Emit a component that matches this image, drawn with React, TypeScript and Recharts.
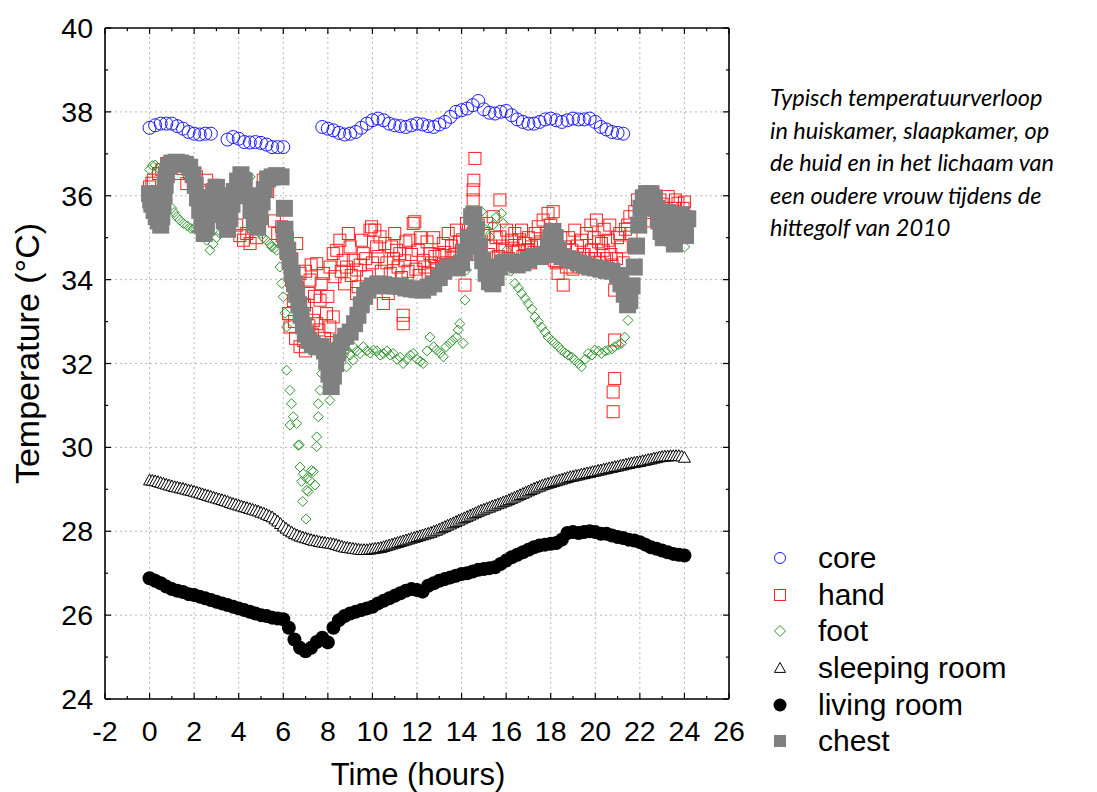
import { ScatterChart, Scatter, XAxis, YAxis, Legend, ReferenceLine } from 'recharts'

const FONT = '"Liberation Sans", Arial, sans-serif'

// core and living room logged every quarter hour, sleeping room every 7.5 min
const CORE_STEP = 0.25
const LIVING_STEP = 0.25
const SLEEPING_STEP = 0.125

const coreTemps: (number | null)[] = [
  37.62, 37.68, 37.72, 37.72, 37.72, 37.66, 37.6, 37.52, 37.48, 37.46, 37.48, 37.48,
  null, null,
  37.34, 37.4, 37.36, 37.28, 37.27, 37.28, 37.26, 37.22, 37.16, 37.16, 37.16,
  null, null, null, null, null, null,
  37.64, 37.6, 37.56, 37.5, 37.46, 37.48, 37.52, 37.62, 37.72, 37.8, 37.84, 37.8,
  37.72, 37.68, 37.66, 37.64, 37.68, 37.72, 37.7, 37.66, 37.64, 37.7, 37.76, 37.88,
  38.0, 38.04, 38.08, 38.16, 38.26, 38.06, 37.98, 37.96, 38.0, 38.02, 37.92, 37.82,
  37.76, 37.72, 37.72, 37.76, 37.82, 37.84, 37.8, 37.76, 37.8, 37.84, 37.82, 37.82,
  37.84, 37.76, 37.64, 37.58, 37.52, 37.5, 37.48,
]

const sleepingRoomTemps = [
  29.22, 29.21, 29.2, 29.18, 29.16, 29.14, 29.12, 29.1, 29.08, 29.06, 29.05, 29.03,
  29.02, 29.0, 28.98, 28.97, 28.95, 28.93, 28.91, 28.89, 28.87, 28.85, 28.83, 28.81,
  28.79, 28.77, 28.75, 28.73, 28.71, 28.68, 28.66, 28.64, 28.62, 28.6, 28.58, 28.56,
  28.54, 28.52, 28.5, 28.48, 28.45, 28.43, 28.4, 28.37, 28.34, 28.29, 28.24, 28.18,
  28.12, 28.07, 28.02, 27.98, 27.94, 27.91, 27.88, 27.86, 27.84, 27.82, 27.8, 27.78,
  27.77, 27.75, 27.74, 27.73, 27.72, 27.71, 27.7, 27.68, 27.66, 27.64, 27.62, 27.61,
  27.6, 27.59, 27.58, 27.57, 27.56, 27.56, 27.56, 27.57, 27.58, 27.59, 27.6, 27.61,
  27.63, 27.65, 27.67, 27.69, 27.71, 27.73, 27.75, 27.77, 27.79, 27.81, 27.83, 27.85,
  27.87, 27.89, 27.91, 27.93, 27.95, 27.97, 28.0, 28.02, 28.05, 28.08, 28.11, 28.14,
  28.17, 28.2, 28.23, 28.26, 28.29, 28.32, 28.35, 28.38, 28.41, 28.44, 28.47, 28.5,
  28.52, 28.55, 28.57, 28.6, 28.62, 28.65, 28.67, 28.7, 28.72, 28.75, 28.78, 28.81,
  28.84, 28.87, 28.9, 28.93, 28.96, 28.99, 29.02, 29.05, 29.07, 29.1, 29.12, 29.14,
  29.16, 29.18, 29.2, 29.22, 29.24, 29.26, 29.28, 29.3, 29.31, 29.33, 29.34, 29.36,
  29.37, 29.39, 29.4, 29.42, 29.43, 29.45, 29.46, 29.48, 29.49, 29.51, 29.52, 29.54,
  29.55, 29.57, 29.58, 29.6, 29.61, 29.63, 29.64, 29.65, 29.66, 29.68, 29.69, 29.71,
  29.72, 29.74, 29.75, 29.77, 29.78, 29.79, 29.79, 29.8, 29.8, 29.8, 29.8, 29.79,
  29.76,
]

const livingRoomTemps = [
  26.88, 26.82, 26.76, 26.68, 26.62, 26.58, 26.55, 26.5,
  26.48, 26.44, 26.4, 26.36, 26.32, 26.28, 26.24, 26.2,
  26.16, 26.12, 26.08, 26.04, 26.0, 25.98, 25.94, 25.92,
  25.9, 25.7, 25.42, 25.22, 25.14, 25.22, 25.36, 25.46,
  25.35, 25.7, 25.88, 25.98, 26.04, 26.08, 26.12, 26.16,
  26.2, 26.28, 26.34, 26.4, 26.46, 26.52, 26.58, 26.62,
  26.6, 26.56, 26.7, 26.76, 26.82, 26.86, 26.9, 26.94,
  26.98, 27.0, 27.04, 27.08, 27.1, 27.12, 27.14, 27.22,
  27.3, 27.38, 27.44, 27.5, 27.56, 27.62, 27.66, 27.68,
  27.7, 27.72, 27.8, 27.96, 27.98, 27.96, 27.98, 28.0,
  27.98, 27.94, 27.94, 27.9, 27.86, 27.84, 27.8, 27.78,
  27.74, 27.68, 27.62, 27.58, 27.54, 27.5, 27.46, 27.44,
  27.42,
]

// irregular records as [hour, temperature]
const chestReadings = [
  [0.0, 36.05], [0.05, 35.9], [0.1, 35.8], [0.2, 35.65], [0.3, 35.5], [0.4, 35.4], [0.5, 35.3],
  [0.55, 35.5], [0.6, 35.75], [0.65, 36.0], [0.7, 36.25], [0.75, 36.5], [0.85, 36.7], [1.0, 36.78],
  [1.2, 36.8], [1.4, 36.78], [1.6, 36.75], [1.8, 36.68], [1.95, 36.5], [2.05, 36.25], [2.15, 35.95],
  [2.25, 35.65], [2.35, 35.3], [2.45, 35.1], [2.55, 35.25], [2.65, 35.55], [2.75, 35.85], [2.9, 36.1],
  [3.0, 36.2], [3.1, 36.0], [3.2, 35.7], [3.35, 35.4], [3.5, 35.2], [3.6, 35.45], [3.7, 35.8],
  [3.8, 36.1], [3.95, 36.35], [4.1, 36.5], [4.25, 36.35], [4.4, 36.0], [4.55, 35.65], [4.7, 35.35],
  [4.85, 35.25], [4.95, 35.5], [5.05, 35.85], [5.15, 36.15], [5.3, 36.4], [5.5, 36.45], [5.7, 36.48],
  [5.9, 36.45], [6.05, 35.7], [6.07, 35.2], [6.1, 34.95], [6.2, 34.7], [6.3, 34.45], [6.4, 34.15],
  [6.5, 33.9], [6.6, 33.65], [6.7, 33.4], [6.8, 33.15], [6.9, 32.9], [7.0, 32.7], [7.15, 32.55],
  [7.3, 32.45], [7.5, 32.4], [7.7, 32.4], [7.85, 32.3], [7.95, 32.05], [8.05, 31.75], [8.15, 31.45],
  [8.25, 31.7], [8.35, 32.0], [8.45, 32.25], [8.6, 32.5], [8.8, 32.65], [9.0, 32.75], [9.2, 32.95],
  [9.35, 33.15], [9.5, 33.4], [9.65, 33.6], [9.8, 33.75], [10.0, 33.85], [10.25, 33.9], [10.5, 33.88],
  [10.75, 33.85], [11.0, 33.85], [11.25, 33.84], [11.5, 33.8], [11.75, 33.78], [12.0, 33.76],
  [12.25, 33.75], [12.5, 33.82], [12.75, 33.9], [13.0, 34.05], [13.2, 34.2], [13.4, 34.3], [13.6, 34.3],
  [13.8, 34.28], [14.0, 34.4], [14.15, 34.65], [14.3, 35.0], [14.45, 35.5], [14.55, 35.55], [14.65, 35.2],
  [14.8, 34.8], [14.95, 34.45], [15.1, 34.15], [15.25, 33.95], [15.4, 33.9], [15.55, 34.05], [15.7, 34.3],
  [15.85, 34.4], [16.0, 34.42], [16.25, 34.4], [16.5, 34.35], [16.75, 34.4], [17.0, 34.48], [17.25, 34.55],
  [17.5, 34.55], [17.75, 34.6], [17.9, 34.8], [18.0, 35.0], [18.1, 35.15], [18.2, 35.0], [18.35, 34.7],
  [18.5, 34.55], [18.75, 34.5], [19.0, 34.45], [19.25, 34.4], [19.5, 34.35], [19.75, 34.3], [20.0, 34.28],
  [20.25, 34.25], [20.5, 34.22], [20.75, 34.2], [21.0, 34.1], [21.15, 33.9], [21.3, 33.65], [21.45, 33.4],
  [21.55, 33.5], [21.65, 33.85], [21.75, 34.3], [21.85, 34.8], [21.95, 35.3], [22.05, 35.7], [22.15, 35.95],
  [22.3, 36.05], [22.5, 36.05], [22.65, 35.95], [22.75, 35.7], [22.85, 35.4], [22.95, 35.15], [23.05, 35.0],
  [23.15, 35.3], [23.25, 35.6], [23.35, 35.3], [23.45, 35.0], [23.55, 34.85], [23.65, 35.1], [23.75, 35.4],
  [23.85, 35.55], [23.95, 35.25], [24.05, 35.05], [24.15, 35.45],
]

const handReadings = [
  [0.0, 36.21], [0.02, 35.95], [0.1, 36.3], [0.17, 36.37], [0.3, 36.1], [0.4, 36.53], [0.55, 36.62],
  [0.77, 36.77], [1.0, 36.7], [1.22, 36.77], [1.37, 36.53], [1.5, 36.65], [1.67, 36.29], [1.8, 36.55],
  [1.97, 36.21], [2.1, 36.45], [2.26, 36.13], [2.4, 35.9], [2.56, 36.37], [2.75, 36.0], [2.9, 36.25],
  [3.3, 35.75], [3.6, 35.6], [3.91, 35.3], [4.05, 35.05], [4.21, 34.94], [4.36, 35.1], [4.51, 34.86],
  [4.66, 35.26], [4.8, 35.0], [5.1, 36.37], [5.3, 36.1], [5.6, 35.4], [5.75, 35.1], [5.93, 35.26],
  [5.95, 35.05], [6.05, 34.95], [6.15, 34.62], [6.23, 33.19], [6.3, 34.3], [6.3, 32.87], [6.37, 33.99],
  [6.45, 33.5], [6.5, 33.0], [6.55, 32.6], [6.6, 34.86], [6.65, 33.8], [6.75, 32.4], [6.75, 34.15],
  [6.85, 33.1], [6.9, 32.55], [6.95, 33.4], [7.0, 32.3], [7.0, 34.2], [7.05, 33.19], [7.12, 33.67],
  [7.15, 32.9], [7.2, 33.99], [7.25, 34.35], [7.3, 32.7], [7.35, 33.03], [7.4, 33.6], [7.45, 32.4],
  [7.5, 32.95], [7.5, 34.38], [7.6, 32.8], [7.65, 33.51], [7.7, 33.9], [7.8, 34.15], [7.85, 32.6],
  [7.94, 33.19], [8.0, 33.6], [8.09, 32.87], [8.1, 34.3], [8.15, 32.5], [8.24, 33.11], [8.24, 34.62],
  [8.32, 34.07], [8.4, 34.7], [8.54, 34.94], [8.6, 34.2], [8.69, 34.46], [8.75, 33.9], [8.84, 34.3],
  [8.92, 35.1], [9.0, 34.78], [9.05, 34.1], [9.14, 34.46], [9.29, 34.23], [9.29, 33.67], [9.36, 33.83],
  [9.45, 34.35], [9.51, 34.94], [9.59, 34.62], [9.7, 34.5], [9.74, 34.07], [9.89, 35.18], [9.96, 35.26],
  [10.0, 34.4], [10.11, 35.18], [10.19, 34.78], [10.25, 34.55], [10.34, 35.02], [10.4, 34.2], [10.49, 33.43],
  [10.56, 34.86], [10.65, 34.4], [10.71, 33.67], [10.8, 34.15], [10.86, 34.78], [10.95, 34.5], [11.0, 35.1],
  [11.08, 34.7], [11.15, 34.3], [11.23, 34.62], [11.3, 34.05], [11.38, 33.15], [11.38, 32.95], [11.45, 34.45],
  [11.5, 34.9], [11.6, 34.2], [11.68, 34.94], [11.75, 34.6], [11.83, 35.34], [11.9, 35.38], [11.95, 34.25],
  [12.05, 34.7], [12.1, 34.1], [12.15, 35.0], [12.28, 34.46], [12.35, 34.3], [12.45, 34.9], [12.5, 34.15],
  [12.58, 34.62], [12.65, 34.4], [12.75, 35.0], [12.8, 34.55], [12.88, 34.23], [12.95, 34.0], [13.0, 34.6],
  [13.1, 34.3], [13.18, 34.86], [13.25, 34.65], [13.3, 34.4], [13.4, 35.1], [13.45, 34.35], [13.55, 34.8],
  [13.62, 34.54], [13.7, 34.6], [13.77, 35.18], [13.85, 34.4], [13.9, 34.9], [14.0, 34.7], [14.05, 34.95],
  [14.15, 33.87], [14.22, 35.34], [14.3, 34.6], [14.35, 35.0], [14.4, 35.2], [14.52, 35.9], [14.52, 36.14],
  [14.55, 36.37], [14.6, 36.89], [14.52, 35.1], [14.75, 35.3], [14.9, 34.9], [15.0, 35.1], [15.12, 35.34],
  [15.2, 34.6], [15.3, 34.8], [15.42, 35.5], [15.5, 34.3], [15.55, 35.0], [15.65, 34.55], [15.72, 35.9],
  [15.72, 35.02], [15.85, 34.8], [15.95, 34.7], [16.02, 35.18], [16.1, 34.5], [16.24, 34.94], [16.3, 34.75],
  [16.39, 35.1], [16.45, 34.45], [16.55, 34.7], [16.6, 34.95], [16.69, 35.18], [16.75, 34.55], [16.84, 34.86],
  [16.95, 34.7], [17.0, 35.0], [17.1, 34.4], [17.14, 34.78], [17.25, 34.65], [17.3, 35.1], [17.4, 34.85],
  [17.44, 35.26], [17.55, 34.9], [17.66, 35.42], [17.7, 34.6], [17.8, 35.1], [17.88, 35.58], [17.95, 34.9],
  [18.0, 35.3], [18.11, 35.62], [18.18, 34.46], [18.25, 34.4], [18.33, 34.15], [18.4, 34.6], [18.45, 35.0],
  [18.56, 33.87], [18.63, 34.78], [18.7, 34.3], [18.8, 35.0], [18.85, 34.45], [18.95, 34.7], [19.0, 34.25],
  [19.08, 35.18], [19.15, 34.5], [19.2, 34.8], [19.3, 34.3], [19.38, 34.94], [19.45, 34.6], [19.5, 34.6],
  [19.6, 35.1], [19.65, 34.35], [19.7, 34.5], [19.8, 35.3], [19.83, 34.7], [19.95, 35.0], [20.0, 34.5],
  [20.05, 35.42], [20.15, 34.9], [20.2, 34.4], [20.28, 34.86], [20.35, 34.7], [20.4, 35.2], [20.5, 34.5],
  [20.58, 34.94], [20.65, 35.3], [20.7, 34.6], [20.75, 34.35], [20.87, 33.75], [20.87, 32.56], [20.87, 31.64],
  [20.8, 31.32], [20.8, 30.85], [20.95, 34.5], [21.0, 35.0], [21.1, 35.1], [21.17, 34.78], [21.25, 34.4],
  [21.35, 35.2], [21.45, 35.3], [21.55, 35.5], [21.6, 35.1], [21.77, 35.62], [21.9, 35.9], [22.07, 35.74],
  [22.2, 35.4], [22.3, 35.95], [22.4, 35.6], [22.5, 35.8], [22.67, 35.66], [22.85, 35.5], [22.9, 35.9],
  [23.0, 35.8], [23.15, 35.55], [23.27, 35.98], [23.3, 35.3], [23.42, 35.5], [23.55, 35.7], [23.6, 35.9],
  [23.71, 35.82], [23.8, 35.1], [23.85, 35.4], [23.94, 35.7], [24.0, 35.85], [24.01, 35.1], [24.05, 35.5],
]

const footReadings = [
  [0.0, 36.62], [0.12, 36.72], [0.25, 36.73], [0.4, 36.65], [0.6, 36.2], [0.8, 35.9], [1.0, 35.7],
  [1.1, 35.6], [1.22, 35.5], [1.35, 35.42], [1.52, 35.34], [1.7, 35.28], [1.85, 35.22], [1.97, 35.22],
  [2.1, 35.2], [2.27, 35.18], [2.4, 35.05], [2.56, 34.94], [2.71, 34.7], [2.85, 34.85], [3.0, 35.0],
  [3.16, 35.1], [3.3, 35.2], [3.46, 35.18], [3.6, 35.6], [3.76, 36.06], [3.9, 36.1], [4.06, 36.21],
  [4.2, 36.3], [4.35, 36.4], [4.51, 36.45], [4.66, 36.06], [4.51, 35.5], [4.81, 35.74], [4.96, 35.1],
  [5.1, 35.0], [5.25, 34.94], [5.4, 34.85], [5.48, 34.78], [5.6, 34.75], [5.7, 34.7], [5.85, 34.3],
  [5.93, 33.91], [6.0, 33.59], [6.08, 33.2], [6.15, 32.87], [6.15, 31.84], [6.3, 31.36], [6.3, 30.53],
  [6.37, 31.04], [6.45, 30.73], [6.6, 30.57], [6.67, 30.05], [6.72, 30.06], [6.75, 29.53], [6.82, 29.19],
  [6.87, 28.71], [6.9, 29.37], [7.02, 28.29], [7.05, 28.98], [7.05, 29.26], [7.12, 28.95], [7.2, 29.21],
  [7.27, 29.45], [7.35, 29.42], [7.42, 29.1], [7.5, 30.25], [7.5, 30.02], [7.57, 31.04], [7.57, 30.73],
  [7.65, 31.36], [7.72, 31.76], [7.8, 31.92], [7.9, 32.2], [8.09, 31.12], [8.24, 32.4], [8.4, 32.3],
  [8.54, 32.16], [8.7, 32.2], [8.84, 31.92], [8.84, 32.32], [9.0, 32.2], [9.14, 32.08], [9.14, 32.4],
  [9.3, 32.3], [9.44, 32.24], [9.59, 32.4], [9.75, 32.3], [9.9, 32.25], [10.04, 32.32], [10.2, 32.3],
  [10.35, 32.2], [10.49, 32.24], [10.65, 32.3], [10.8, 32.2], [10.93, 32.24], [11.1, 32.1], [11.25, 32.15],
  [11.38, 32.0], [11.55, 32.1], [11.7, 32.2], [11.83, 32.24], [12.0, 32.1], [12.15, 32.05], [12.28, 32.0],
  [12.45, 32.3], [12.58, 32.63], [12.75, 32.4], [12.88, 32.32], [13.05, 32.25], [13.18, 32.16], [13.3, 32.4],
  [13.47, 32.48], [13.6, 32.55], [13.77, 32.63], [13.85, 32.8], [13.92, 32.95], [14.07, 32.48], [14.15, 33.51],
  [14.22, 34.23], [14.37, 34.7], [14.52, 35.58], [14.7, 35.4], [14.89, 35.62], [15.05, 35.2], [15.27, 35.02],
  [15.4, 35.3], [15.57, 35.5], [15.79, 35.58], [15.87, 35.34], [16.02, 34.7], [16.2, 34.2], [16.39, 33.91],
  [16.55, 33.8], [16.69, 33.67], [16.85, 33.55], [16.99, 33.43], [17.15, 33.3], [17.29, 33.11], [17.45, 33.0],
  [17.59, 32.87], [17.75, 32.75], [17.88, 32.63], [18.05, 32.55], [18.18, 32.48], [18.35, 32.4], [18.48, 32.32],
  [18.65, 32.25], [18.78, 32.2], [18.95, 32.15], [19.08, 32.08], [19.25, 32.0], [19.38, 31.92], [19.55, 32.1],
  [19.68, 32.24], [19.85, 32.2], [19.98, 32.32], [20.15, 32.3], [20.28, 32.24], [20.45, 32.3], [20.58, 32.32],
  [20.75, 32.35], [20.87, 32.4], [21.05, 32.45], [21.17, 32.48], [21.32, 32.63], [21.47, 33.03], [21.62, 33.79],
  [21.7, 34.3], [21.8, 34.8], [22.0, 35.3], [22.2, 35.6], [22.52, 35.74], [22.8, 35.5], [23.1, 35.3],
  [23.4, 35.2], [23.7, 35.0], [24.01, 34.78],
]

const X_MIN = -2
const X_MAX = 26
const Y_MIN = 24
const Y_MAX = 40
const xTicks = [-2, -1, 0, 1, 2, 3, 4, 5, 6, 7, 8, 9, 10, 11, 12, 13, 14, 15, 16, 17, 18, 19, 20, 21, 22, 23, 24, 25, 26]
const yTicks = [24, 25, 26, 27, 28, 29, 30, 31, 32, 33, 34, 35, 36, 37, 38, 39, 40]
const gridX = [0, 2, 4, 6, 8, 10, 12, 14, 16, 18, 20, 22, 24]
const gridY = [26, 28, 30, 32, 34, 36, 38]

const caption = [
  'Typisch temperatuurverloop',
  'in huiskamer, slaapkamer, op',
  'de huid en in het lichaam van',
  'een oudere vrouw tijdens de',
  'hittegolf van 2010',
]

type Pt = { h: number; t: number }

const fromSeries = (temps: (number | null)[], step: number): Pt[] =>
  temps.flatMap((t, i) => (t === null ? [] : [{ h: i * step, t }]))

const fromPairs = (pairs: number[][]): Pt[] => pairs.map(([h, t]) => ({ h, t }))

// marker shapes
const ring = (cx: number, cy: number, r: number) => (
  <circle cx={cx} cy={cy} r={r} fill="none" stroke="#1a1aff" strokeWidth={1} />
)
const box = (cx: number, cy: number, s: number) => (
  <rect x={cx - s / 2} y={cy - s / 2} width={s} height={s} fill="none" stroke="#ff2020" strokeWidth={1} />
)
const diamond = (cx: number, cy: number, s: number) => (
  <polygon
    points={`${cx},${cy - s} ${cx + s},${cy} ${cx},${cy + s} ${cx - s},${cy}`}
    fill="none"
    stroke="#2e962e"
    strokeWidth={1}
  />
)
const triangle = (cx: number, cy: number, s: number, fill: string) => (
  <polygon
    points={`${cx},${cy - s} ${cx + s},${cy + s * 0.8} ${cx - s},${cy + s * 0.8}`}
    fill={fill}
    stroke="#000"
    strokeWidth={1}
  />
)
const dot = (cx: number, cy: number, r: number) => <circle cx={cx} cy={cy} r={r} fill="#000" />
const block = (cx: number, cy: number, s: number) => (
  <rect x={cx - s / 2} y={cy - s / 2} width={s} height={s} fill="#808080" />
)

const series = [
  { name: 'core', data: fromSeries(coreTemps, CORE_STEP), plot: (x: number, y: number) => ring(x, y, 6.5), key: (x: number, y: number) => ring(x, y, 5.5) },
  { name: 'hand', data: fromPairs(handReadings), plot: (x: number, y: number) => box(x, y, 12), key: (x: number, y: number) => box(x, y, 11) },
  { name: 'foot', data: fromPairs(footReadings), plot: (x: number, y: number) => diamond(x, y, 5), key: (x: number, y: number) => diamond(x, y, 5.5) },
  { name: 'sleeping room', data: fromSeries(sleepingRoomTemps, SLEEPING_STEP), plot: (x: number, y: number) => triangle(x, y, 6, '#fff'), key: (x: number, y: number) => triangle(x, y, 5.5, 'none') },
  { name: 'living room', data: fromSeries(livingRoomTemps, LIVING_STEP), plot: (x: number, y: number) => dot(x, y, 7), key: (x: number, y: number) => dot(x, y, 6.5) },
  { name: 'chest', data: fromPairs(chestReadings), plot: (x: number, y: number) => block(x, y, 17), key: (x: number, y: number) => block(x, y, 12) },
]

const tickText = { fontSize: 28.5, fontFamily: FONT, fill: '#000' }
const isMajor = (v: number) => Math.abs(v % 2) === 0

const BottomTick = ({ x, y, payload }: any) => (
  <g>
    <line x1={x} x2={x} y1={y} y2={y - (isMajor(payload.value) ? 6 : 3)} stroke="#000" strokeWidth={1.2} />
    {isMajor(payload.value) && (
      <text x={x} y={y + 42} textAnchor="middle" {...tickText}>{payload.value}</text>
    )}
  </g>
)
const LeftTick = ({ x, y, payload }: any) => (
  <g>
    <line x1={x} x2={x + (isMajor(payload.value) ? 6 : 3)} y1={y} y2={y} stroke="#000" strokeWidth={1.2} />
    {isMajor(payload.value) && (
      <text x={x - 12} y={y + 10} textAnchor="end" {...tickText}>{payload.value}</text>
    )}
  </g>
)

const XTitle = ({ viewBox }: any) => (
  <text x={viewBox.x + viewBox.width / 2 + 1} y={viewBox.y + 86} textAnchor="middle" fontSize={31} fontFamily={FONT} fill="#000">
    Time (hours)
  </text>
)
const YTitle = ({ viewBox }: any) => {
  const cx = viewBox.x - 17
  const cy = viewBox.y + viewBox.height / 2 - 10
  return (
    <text
      x={cx}
      y={cy}
      dy={11}
      transform={`rotate(-90 ${cx} ${cy})`}
      textAnchor="middle"
      fontSize={34}
      fontFamily={FONT}
      fill="#000"
    >
      Temperature (°C)
    </text>
  )
}

const LegendBox = () => (
  <div style={{ fontFamily: FONT, fontSize: 30, color: '#000' }}>
    {series.map((s) => (
      <div key={s.name} style={{ display: 'flex', alignItems: 'center', height: 36.6 }}>
        <svg width={30} height={30} style={{ flex: 'none' }}>
          {s.key(15, 15)}
        </svg>
        <span style={{ marginLeft: 23, lineHeight: '32px' }}>{s.name}</span>
      </div>
    ))}
  </div>
)

const axisLine = { stroke: '#000', strokeWidth: 1.6 }
const gridStyle = { stroke: '#b8b8b8', strokeDasharray: '2 3', strokeWidth: 1 }
const frameStyle = { stroke: '#000', strokeWidth: 1.6 }
// inward tick lengths on the top and right edges, in data units
const TOP_TICK = [0.145, 0.075]
const RIGHT_TICK = [0.27, 0.14]

export default function App() {
  return (
    <div style={{ position: 'absolute', left: 0, top: 0, width: 1097, height: 792, background: '#fff' }}>
      <ScatterChart width={1097} height={792} margin={{ top: 28, right: 368, bottom: 33, left: 45 }}>
        <XAxis
          type="number"
          dataKey="h"
          domain={[X_MIN, X_MAX]}
          ticks={xTicks}
          interval={0}
          height={60}
          tickSize={0}
          tickMargin={0}
          tickLine={false}
          axisLine={axisLine}
          tick={<BottomTick />}
          label={XTitle}
        />
        <YAxis
          type="number"
          dataKey="t"
          domain={[Y_MIN, Y_MAX]}
          ticks={yTicks}
          interval={0}
          width={60}
          tickSize={0}
          tickMargin={0}
          tickLine={false}
          axisLine={axisLine}
          tick={<LeftTick />}
          label={YTitle}
        />
        {gridX.map((v) => (
          <ReferenceLine key={`gx${v}`} x={v} {...gridStyle} />
        ))}
        {gridY.map((v) => (
          <ReferenceLine key={`gy${v}`} y={v} {...gridStyle} />
        ))}
        <ReferenceLine y={Y_MAX} {...frameStyle} />
        <ReferenceLine x={X_MAX} {...frameStyle} />
        {xTicks.map((v) => (
          <ReferenceLine
            key={`tt${v}`}
            segment={[{ x: v, y: Y_MAX }, { x: v, y: Y_MAX - TOP_TICK[isMajor(v) ? 0 : 1] }]}
            stroke="#000"
            strokeWidth={1.2}
          />
        ))}
        {yTicks.map((v) => (
          <ReferenceLine
            key={`rt${v}`}
            segment={[{ x: X_MAX, y: v }, { x: X_MAX - RIGHT_TICK[isMajor(v) ? 0 : 1], y: v }]}
            stroke="#000"
            strokeWidth={1.2}
          />
        ))}
        {series.map((s) => (
          <Scatter
            key={s.name}
            name={s.name}
            data={s.data}
            isAnimationActive={false}
            shape={(p: any) => s.plot(p.cx, p.cy)}
          />
        ))}
        <Legend
          layout="horizontal"
          verticalAlign="middle"
          align="center"
          wrapperStyle={{ left: 765, top: 540, width: 330 }}
          content={LegendBox}
        />
      </ScatterChart>
      <div
        style={{
          position: 'absolute',
          left: 770,
          top: 81,
          fontFamily: 'Lato, "Open Sans", sans-serif',
          fontStyle: 'italic',
          fontSize: 23.5,
          lineHeight: '32.5px',
          color: '#000',
          whiteSpace: 'nowrap',
        }}
      >
        {caption.map((line) => (
          <div key={line}>{line}</div>
        ))}
      </div>
    </div>
  )
}
